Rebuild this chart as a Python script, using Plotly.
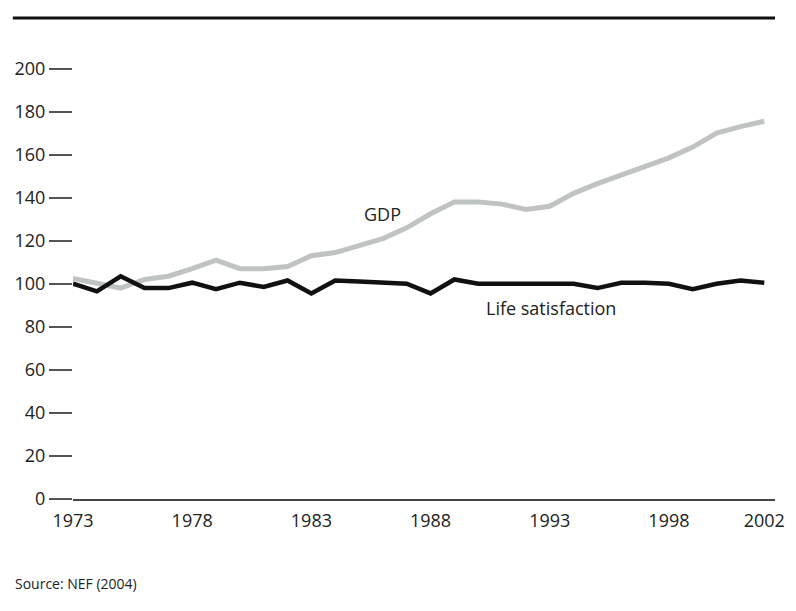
import plotly.graph_objects as go

years = list(range(1973, 2003))
gdp = [102.5, 100, 98, 102, 103.5, 107, 111, 107, 107, 108,
       113, 114.5, 118, 121, 126, 132.5, 138, 138, 137, 134.5,
       136, 142, 146.5, 150.5, 154.5, 158.5, 163.5, 170, 173, 175.5]
life_sat = [100, 96.5, 103.5, 98, 98, 100.5, 97.5, 100.5, 98.5, 101.5,
            95.5, 101.5, 101, 100.5, 100, 95.5, 102, 100, 100, 100,
            100, 100, 98, 100.5, 100.5, 100, 97.5, 100, 101.5, 100.5]
x_ticks = [1973, 1978, 1983, 1988, 1993, 1998, 2002]
y_ticks = list(range(0, 201, 20))

FONT = "Open Sans"

fig = go.Figure()
fig.add_trace(go.Scatter(x=years, y=gdp, mode="lines", name="GDP",
                         line=dict(color="#bfc3c2", width=5), cliponaxis=False))
fig.add_trace(go.Scatter(x=years, y=life_sat, mode="lines", name="Life satisfaction",
                         line=dict(color="#111111", width=4.5), cliponaxis=False))

fig.update_layout(
    width=796, height=611,
    margin=dict(l=73, r=11, t=47, b=112),
    paper_bgcolor="white", plot_bgcolor="white",
    showlegend=False,
    font=dict(family=FONT, size=19, color="#222"),
    xaxis=dict(range=[1973, 2002.45], tickvals=x_ticks, ticktext=[str(v) for v in x_ticks],
               showgrid=False, zeroline=False, showline=True, linecolor="#444", linewidth=1.5,
               ticks="outside", ticklen=5, tickcolor="rgba(0,0,0,0)",
               ticklabeloverflow="allow",
               tickfont=dict(family=FONT, size=18, color="#222")),
    yaxis=dict(range=[0, 210], tickvals=y_ticks, showgrid=False, zeroline=False,
               showline=False, ticks="outside", ticklen=23, tickwidth=1.5, tickcolor="#555",
               tickfont=dict(family=FONT, size=18, color="#222")),
    shapes=[dict(type="line", xref="paper", yref="paper", x0=-0.0857, x1=1.0,
                 y0=1.064, y1=1.064, line=dict(color="#111", width=3))],
    annotations=[
        dict(x=1986.0, y=132.4, xref="x", yref="y", text="GDP", showarrow=False,
             font=dict(family=FONT, size=18, color="#222")),
        dict(x=1993.05, y=88.75, xref="x", yref="y", text="Life satisfaction", showarrow=False,
             font=dict(family=FONT, size=18, color="#222")),
        dict(x=-0.0857, y=-0.186, xref="paper", yref="paper", text="Source: NEF (2004)",
             showarrow=False, xanchor="left", yanchor="middle",
             font=dict(family=FONT, size=14, color="#222")),
    ],
)

fig.write_html("out.html", config={"displayModeBar": False},
               post_script="document.body.style.margin='0';document.body.style.overflow='hidden';")
